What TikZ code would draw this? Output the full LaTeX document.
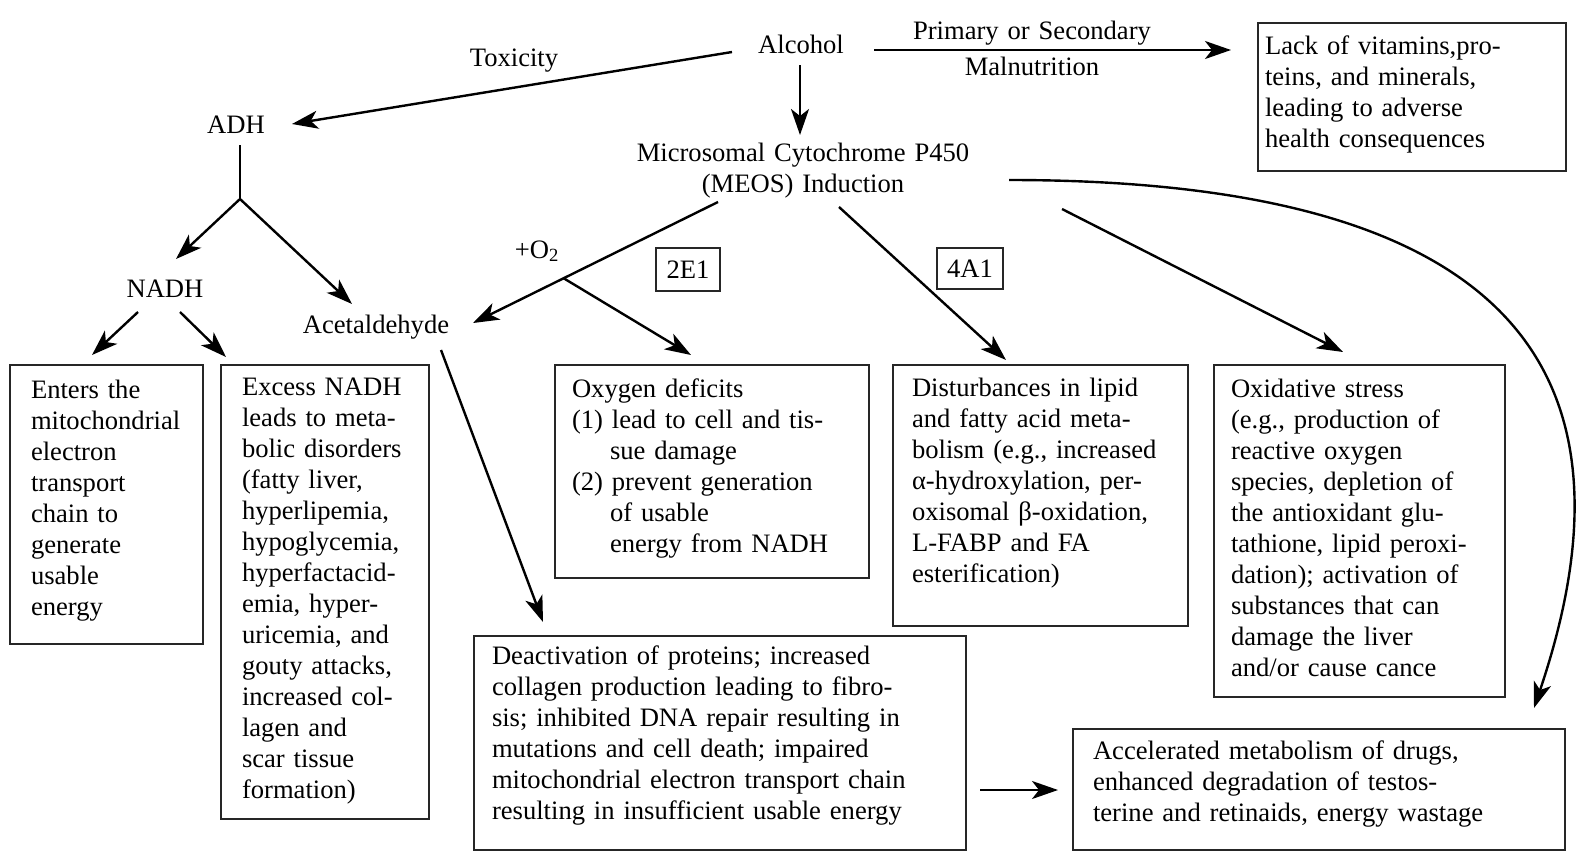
\documentclass[tikz,border=0pt]{standalone}
\usepackage{fontspec}
\setmainfont{Liberation Serif}
\usetikzlibrary{arrows.meta,calc}
\begin{document}
\begin{tikzpicture}[x=1pt,y=-1pt,
  lbl/.style={font=\fontsize{26.6}{31}\selectfont, inner sep=0pt, outer sep=0pt},
  txt/.style={font=\fontsize{26.6}{31}\selectfont, inner sep=0pt, outer sep=0pt, align=left, anchor=base west},
  box/.style={draw=black!85, line width=2.6pt, anchor=north west, inner sep=0pt, outer sep=0pt},
  tag/.style={draw=black!85, line width=2.6pt, anchor=north west, inner sep=0pt, outer sep=0pt, font=\fontsize{26.6}{31}\selectfont},
  arr/.style={line width=2.4pt, -{Stealth[length=26pt,width=18pt,inset=7pt]}},
  ln/.style={line width=2.4pt}]
\useasboundingbox[fill=white] (0,0) rectangle (1583,860);

% labels
\node[lbl, anchor=base] (alc) at (801,53) {Alcohol};
\node[lbl, anchor=base] (tox) at (514,66) {Toxicity};
\node[lbl, anchor=base] (adh) at (236,133) {ADH};
\node[lbl, anchor=base] (nadh) at (165,297) {NADH};
\node[lbl, anchor=base] (acet) at (376,333) {Acetaldehyde};
\node[lbl, anchor=base] (o2) at (537,258) {+O\textsubscript{2}};
\node[lbl, anchor=base, text width=400pt, align=center] (meos) at (803,161) {Microsomal Cytochrome P450\\(MEOS) Induction};
\node[lbl, anchor=base, text width=300pt, align=center] (mal) at (1032,39.5) {Primary or Secondary\\[4.5pt]Malnutrition};
\node[tag, minimum width=64pt, minimum height=43pt] (e21) at (656,248) {2E1};
\node[tag, minimum width=66pt, minimum height=41pt] (a41) at (937,248) {4A1};

% boxes
\node[box, minimum width=308pt, minimum height=148pt] (lack) at (1258,23) {};
\node[txt, text width=298pt] (lackt) at (1265,54.5) {Lack of vitamins,pro-\\teins, and minerals,\\leading to adverse\\health consequences};

\node[box, minimum width=193pt, minimum height=279pt] (b1) at (10,365) {};
\node[txt, text width=170pt] (b1t) at (31,398) {Enters the\\mitochondrial\\electron\\transport\\chain to\\generate\\usable\\energy};

\node[box, minimum width=208pt, minimum height=454pt] (b2) at (221,365) {};
\node[txt, text width=185pt] (b2t) at (242,395.5) {Excess NADH\\leads to meta-\\bolic disorders\\(fatty liver,\\hyperlipemia,\\hypoglycemia,\\hyperfactacid-\\emia, hyper-\\uricemia, and\\gouty attacks,\\increased col-\\lagen and\\scar tissue\\formation)};

\node[box, minimum width=314pt, minimum height=213pt] (oxy) at (555,365) {};
\node[txt, text width=295pt] (oxyt) at (572,397.5) {Oxygen deficits\\(1) lead to cell and tis-\\\hspace*{38pt}sue damage\\(2) prevent generation\\\hspace*{38pt}of usable\\\hspace*{38pt}energy from NADH};

\node[box, minimum width=295pt, minimum height=261pt] (dist) at (893,365) {};
\node[txt, text width=274pt] (distt) at (912,396.5) {Disturbances in lipid\\and fatty acid meta-\\bolism (e.g., increased\\α-hydroxylation, per-\\oxisomal β-oxidation,\\L-FABP and FA\\esterification)};

\node[box, minimum width=291pt, minimum height=332pt] (oxs) at (1214,365) {};
\node[txt, text width=272pt] (oxst) at (1231,397.5) {Oxidative stress\\(e.g., production of\\reactive oxygen\\species, depletion of\\the antioxidant glu-\\tathione, lipid peroxi-\\dation); activation of\\substances that can\\damage the liver\\and/or cause cance};

\node[box, minimum width=492pt, minimum height=214pt] (deact) at (474,636) {};
\node[txt, text width=472pt] (deactt) at (492,664.5) {Deactivation of proteins; increased\\collagen production leading to fibro-\\sis; inhibited DNA repair resulting in\\mutations and cell death; impaired\\mitochondrial electron transport chain\\resulting in insufficient usable energy};

\node[box, minimum width=492pt, minimum height=121pt] (accel) at (1073,729) {};
\node[txt, text width=470pt] (accelt) at (1093,759.5) {Accelerated metabolism of drugs,\\enhanced degradation of testos-\\terine and retinaids, energy wastage};

% connector end points
\coordinate (alcW) at (732,52);
\coordinate (adhE) at (292,124);
\coordinate (alcS) at (800,65);
\coordinate (meosN) at (800,135);
\coordinate (alcE) at (874,50);
\coordinate (lackW) at (1231,50);
\coordinate (adhS) at (240,145);
\coordinate (fork) at (240,199);
\coordinate (nadhN) at (176,259);
\coordinate (acetN) at (352,304);
\coordinate (nadhSW) at (138,312);
\coordinate (b1N) at (92,355);
\coordinate (nadhSE) at (180,312);
\coordinate (b2N) at (226,357);
\coordinate (meosSW) at (718,202);
\coordinate (acetE) at (473,323);
\coordinate (oxyN) at (691,355);
\coordinate (acetS) at (441,350);
\coordinate (deactN) at (543,622);
\coordinate (meosS) at (839,207);
\coordinate (distN) at (1006,360);
\coordinate (meosSE) at (1062,209);
\coordinate (oxsN) at (1343,352);
\coordinate (meosE) at (1009,180);
\coordinate (accelN) at (1534,708);
\coordinate (deactE) at (980,790);
\coordinate (accelW) at (1058,790);

% connectors
\draw[arr] (alcW) -- (adhE);
\draw[arr] (alcS) -- (meosN);
\draw[arr] (alcE) -- (lackW);
\draw[ln] (adhS) -- (fork);
\draw[arr] (fork) -- (nadhN);
\draw[arr] (fork) -- (acetN);
\draw[arr] (nadhSW) -- (b1N);
\draw[arr] (nadhSE) -- (b2N);
\draw[arr] (meosSW) -- (acetE);
\draw[arr] ($(meosSW)!0.63!(acetE)$) -- (oxyN);
\draw[arr] (acetS) -- (deactN);
\draw[arr] (meosS) -- (distN);
\draw[arr] (meosSE) -- (oxsN);
\draw[arr] (meosE) .. controls (1509,180) and (1649,368) .. (accelN);
\draw[arr] (deactE) -- (accelW);
\end{tikzpicture}
\end{document}
